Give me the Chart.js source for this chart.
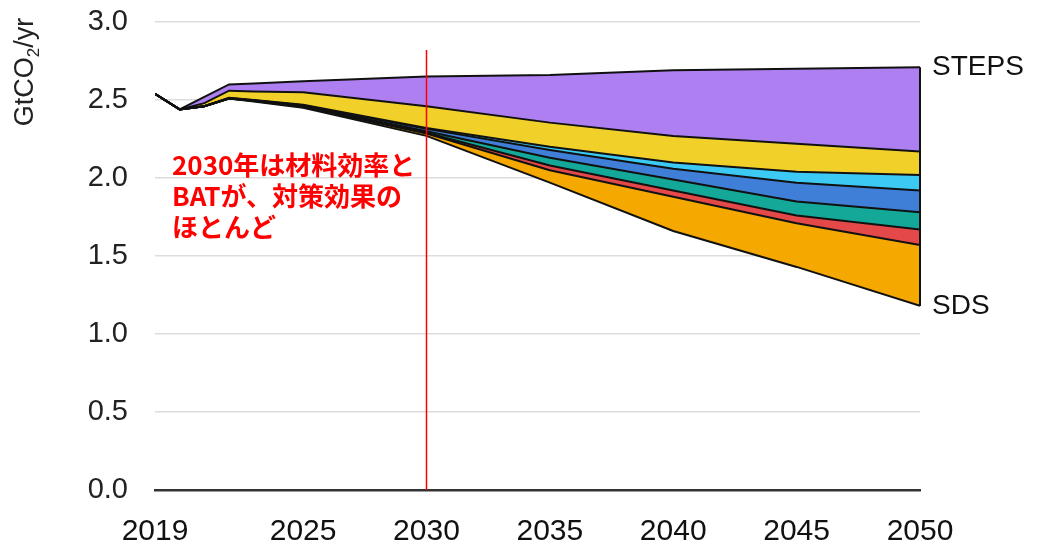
<!DOCTYPE html>
<html>
<head>
<meta charset="utf-8">
<script src="https://cdn.jsdelivr.net/npm/chart.js@4.4.1/dist/chart.umd.min.js"></script>
<style>
  html, body { margin: 0; padding: 0; background: #fff; }
  #wrap { width: 1037px; height: 549px; }
</style>
</head>
<body>
<div id="wrap"><canvas id="chart" width="1037" height="549"></canvas></div>
<script>
const years = [2019, 2020, 2021, 2022, 2023, 2025, 2030, 2035, 2040, 2045, 2050];
const xTicks = [2019, 2025, 2030, 2035, 2040, 2045, 2050];

// SDS pathway (bottom line), then wedges stacked on it up to STEPS
const sds       = [2.54, 2.44, 2.46, 2.51, 2.49, 2.45, 2.27, 1.97, 1.66, 1.43, 1.18];
const orange    = [0, 0, 0, 0, 0.003, 0.005, 0.015, 0.08, 0.22, 0.28, 0.39];
const red       = [0, 0, 0, 0, 0.002, 0.003, 0.005, 0.03, 0.04, 0.05, 0.10];
const teal      = [0, 0, 0, 0, 0.002, 0.004, 0.01, 0.05, 0.07, 0.09, 0.11];
const blue      = [0, 0, 0, 0.003, 0.002, 0.005, 0.015, 0.05, 0.07, 0.12, 0.14];
const lightBlue = [0, 0, 0, 0.002, 0.001, 0.003, 0.005, 0.02, 0.04, 0.07, 0.10];
const yellow    = [0, 0, 0.02, 0.045, 0.055, 0.08, 0.14, 0.155, 0.17, 0.18, 0.15];
const purple    = [0, 0, 0.04, 0.04, 0.05, 0.07, 0.19, 0.305, 0.42, 0.48, 0.54];

const markerYear = 2030;
const markerTop = 2.82;
const noteLines = ["2030年は材料効率と", "BATが、対策効果の", "ほとんど"];

const tickFont = "'Liberation Sans', Arial, sans-serif";

function series(values) {
  return years.map((yr, i) => ({ x: yr, y: values[i] }));
}

function layer(label, values, color) {
  return {
    label: label,
    data: series(values),
    backgroundColor: color,
    borderColor: "#111",
    borderWidth: 2,
    fill: "-1",
    pointRadius: 0,
    tension: 0
  };
}

const overlay = {
  id: "overlay",
  afterDatasetsDraw(chart) {
    const { ctx, chartArea, scales } = chart;
    const last = years.length - 1;
    const bottomPt = chart.getDatasetMeta(0).data[last];
    const topPt = chart.getDatasetMeta(chart.data.datasets.length - 1).data[last];

    ctx.save();
    // closing edge at 2050
    ctx.strokeStyle = "#111";
    ctx.lineWidth = 2;
    ctx.beginPath();
    ctx.moveTo(bottomPt.x, bottomPt.y);
    ctx.lineTo(topPt.x, topPt.y);
    ctx.stroke();

    // red marker at 2030
    const mx = Math.round(scales.x.getPixelForValue(markerYear)) + 0.5;
    ctx.strokeStyle = "#ff0000";
    ctx.lineWidth = 1.5;
    ctx.beginPath();
    ctx.moveTo(mx, scales.y.getPixelForValue(markerTop));
    ctx.lineTo(mx, chartArea.bottom);
    ctx.stroke();

    // scenario labels
    ctx.fillStyle = "#111";
    ctx.font = "28px " + tickFont;
    ctx.textAlign = "left";
    ctx.textBaseline = "middle";
    ctx.fillText("STEPS", chartArea.right + 12, topPt.y);
    ctx.fillText("SDS", chartArea.right + 12, bottomPt.y);

    // note
    ctx.fillStyle = "#ff0000";
    ctx.font = "bold 26px 'Noto Sans CJK JP', sans-serif";
    noteLines.forEach((t, i) => ctx.fillText(t, 172, 165 + i * 31));

    // y axis title with subscript
    ctx.fillStyle = "#222";
    ctx.translate(26, 72);
    ctx.rotate(-Math.PI / 2);
    const big = "27px " + tickFont, small = "17px " + tickFont;
    ctx.font = big;
    const w1 = ctx.measureText("GtCO").width, w3 = ctx.measureText("/yr").width;
    ctx.font = small;
    const w2 = ctx.measureText("2").width;
    let px = -(w1 + w2 + w3) / 2;
    ctx.font = big;
    ctx.fillText("GtCO", px, 0);
    px += w1;
    ctx.font = small;
    ctx.fillText("2", px, 8);
    px += w2;
    ctx.font = big;
    ctx.fillText("/yr", px, 0);
    ctx.restore();
  }
};

new Chart(document.getElementById("chart").getContext("2d"), {
  type: "line",
  data: {
    datasets: [
      {
        label: "SDS",
        data: series(sds),
        borderColor: "#111",
        borderWidth: 2,
        fill: false,
        pointRadius: 0,
        tension: 0
      },
      layer("wedge 1", orange, "#f5a800"),
      layer("wedge 2", red, "#e44848"),
      layer("wedge 3", teal, "#14a898"),
      layer("wedge 4", blue, "#3f7fd8"),
      layer("wedge 5", lightBlue, "#3ccaf5"),
      layer("wedge 6", yellow, "#f2d02a"),
      layer("wedge 7", purple, "#ae7ff0")
    ]
  },
  options: {
    responsive: false,
    animation: false,
    layout: { padding: { top: 22, right: 117, left: 0, bottom: 0 } },
    plugins: { legend: { display: false }, tooltip: { enabled: false } },
    scales: {
      x: {
        type: "linear",
        min: 2019,
        max: 2050,
        grid: { display: false, drawTicks: false },
        border: { display: true, color: "#333", width: 2.5 },
        ticks: { font: { family: tickFont, size: 30 }, color: "#111", padding: 24, maxRotation: 0, autoSkip: false, callback: (v) => String(v) },
        afterBuildTicks: (s) => { s.ticks = xTicks.map((v) => ({ value: v })); },
        afterFit: (s) => { s.height = 59; }
      },
      y: {
        stacked: true,
        min: 0,
        max: 3,
        ticks: { stepSize: 0.5, callback: (v) => v.toFixed(1), font: { family: tickFont, size: 29 }, color: "#222", padding: 27 },
        grid: {
          drawTicks: false,
          lineWidth: 1.5,
          color: (c) => (c.tick && c.tick.value === 0 ? "rgba(0,0,0,0)" : "#dddddd")
        },
        border: { display: false },
        afterFit: (s) => {
          s.width = 155;
          s.paddingTop = 0;
          s.paddingBottom = 0;
        }
      }
    }
  },
  plugins: [overlay]
});
</script>
</body>
</html>
